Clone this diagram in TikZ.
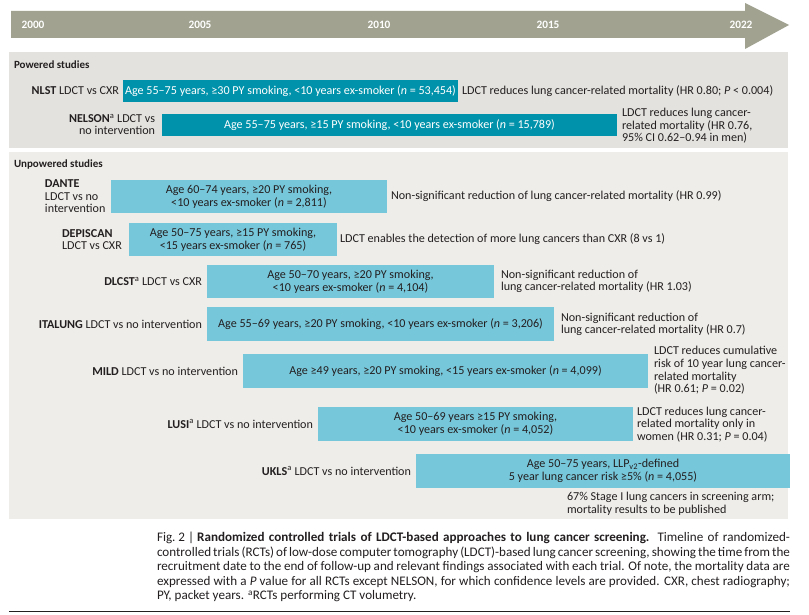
\documentclass[tikz,border=0pt]{standalone}
\usepackage{fontspec}
\setmainfont{Carlito}
\definecolor{arrowgray}{HTML}{A1A28F}
\definecolor{tealdark}{HTML}{0092AA}
\definecolor{teallight}{HTML}{77C7DA}
\definecolor{panelA}{HTML}{E3E2DE}
\definecolor{panelB}{HTML}{EEEDE9}
\definecolor{ink}{HTML}{231F20}
\tikzset{
  txt/.style={inner sep=0pt, outer sep=0pt, text=ink, font=\fontsize{12.1}{12.6}\selectfont},
  head/.style={txt, font=\fontsize{11}{12.6}\selectfont\bfseries},
  year/.style={inner sep=0pt, text=white, font=\fontsize{11.3}{12}\selectfont\bfseries},
  barbase/.style={inner sep=0pt, outer sep=0pt, anchor=north west, align=center, font=\fontsize{12.1}{12.6}\selectfont},
  darkbar/.style={barbase, fill=tealdark, text=white},
  lightbar/.style={barbase, fill=teallight, text=ink},
}
\newcommand{\sa}{\textsuperscript{a}}
\begin{document}
\begin{tikzpicture}[x=1pt,y=-1pt]
\useasboundingbox (0,0) rectangle (809,615);
\fill[white] (0,0) rectangle (809,615);
% timeline arrow
\fill[arrowgray] (11,11) -- (745,11) -- (745,3) -- (789,25) -- (745,49) -- (745,38) -- (11,38) -- cycle;
\node[year] (y2000) at (33,24.5) {2000};
\node[year] (y2005) at (200,24.5) {2005};
\node[year] (y2010) at (379,24.5) {2010};
\node[year] (y2015) at (548,24.5) {2015};
\node[year] (y2022) at (741,24.5) {2022};
% panels
\fill[panelA] (9,52) rectangle (788,148);
\fill[panelB] (9,152) rectangle (788,519);
% powered
\node[head, anchor=west] (hp) at (14,65) {Powered studies};
\node[darkbar, minimum width=335pt, minimum height=22pt] (nlst) at (123,80)
  {Age 55–75 years, ≥30 PY smoking, <10 years ex-smoker (\textit{n} = 53,454)};
\node[txt, anchor=east] (nlstl) at (119,91) {\textbf{NLST} LDCT vs CXR};
\node[txt, anchor=west] (nlstr) at (462,91) {LDCT reduces lung cancer-related mortality (HR 0.80; \textit{P} < 0.004)};
\node[darkbar, minimum width=455pt, minimum height=22pt] (nelson) at (162,114)
  {Age 55–75 years, ≥15 PY smoking, <10 years ex-smoker (\textit{n} = 15,789)};
\node[txt, anchor=east, align=right] (nelsonl) at (155,124.5) {\textbf{NELSON}\sa{} LDCT vs\\no intervention};
\node[txt, anchor=west, align=left] (nelsonr) at (622,126) {LDCT reduces lung cancer-\\related mortality (HR 0.76,\\95\% CI 0.62–0.94 in men)};
% unpowered
\node[head, anchor=west] (hu) at (14,165) {Unpowered studies};
\node[lightbar, minimum width=276pt, minimum height=33pt] (dante) at (111,180)
  {Age 60–74 years, ≥20 PY smoking,\\<10 years ex-smoker (\textit{n} = 2,811)};
\node[txt, anchor=west, align=left] (dantel) at (45,196.5) {\textbf{DANTE}\\LDCT vs no\\intervention};
\node[txt, anchor=west] (danter) at (391,196.5) {Non-significant reduction of lung cancer-related mortality (HR 0.99)};
\node[lightbar, minimum width=208pt, minimum height=33pt] (depiscan) at (129,223)
  {Age 50–75 years, ≥15 PY smoking,\\<15 years ex-smoker (\textit{n} = 765)};
\node[txt, anchor=west, align=left] (depiscanl) at (62,239.5) {\textbf{DEPISCAN}\\LDCT vs CXR};
\node[txt, anchor=west] (depiscanr) at (340,239.5) {LDCT enables the detection of more lung cancers than CXR (8 vs 1)};
\node[lightbar, minimum width=287pt, minimum height=33pt] (dlcst) at (207,265)
  {Age 50–70 years, ≥20 PY smoking,\\<10 years ex-smoker (\textit{n} = 4,104)};
\node[txt, anchor=east] (dlcstl) at (202,281.5) {\textbf{DLCST}\sa{} LDCT vs CXR};
\node[txt, anchor=west, align=left] (dlcstr) at (501,281.5) {Non-significant reduction of\\lung cancer-related mortality (HR 1.03)};
\node[lightbar, minimum width=347pt, minimum height=34pt] (italung) at (207,307)
  {Age 55–69 years, ≥20 PY smoking, <10 years ex-smoker (\textit{n} = 3,206)};
\node[txt, anchor=east] (italungl) at (202,324) {\textbf{ITALUNG} LDCT vs no intervention};
\node[txt, anchor=west, align=left] (italungr) at (561,324.5) {Non-significant reduction of\\lung cancer-related mortality (HR 0.7)};
\node[lightbar, minimum width=405pt, minimum height=34pt] (mild) at (243,354)
  {Age ≥49 years, ≥20 PY smoking, <15 years ex-smoker (\textit{n} = 4,099)};
\node[txt, anchor=east] (mildl) at (238,371) {\textbf{MILD} LDCT vs no intervention};
\node[txt, anchor=west, align=left] (mildr) at (654,370.5) {LDCT reduces cumulative\\risk of 10 year lung cancer-\\related mortality\\(HR 0.61; \textit{P} = 0.02)};
\node[lightbar, minimum width=315pt, minimum height=34pt] (lusi) at (318,407)
  {Age 50–69 years ≥15 PY smoking,\\<10 years ex-smoker (\textit{n} = 4,052)};
\node[txt, anchor=east] (lusil) at (313,424) {\textbf{LUSI}\sa{} LDCT vs no intervention};
\node[txt, anchor=west, align=left] (lusir) at (637,424.5) {LDCT reduces lung cancer-\\related mortality only in\\women (HR 0.31; \textit{P} = 0.04)};
\node[lightbar, minimum width=374pt, minimum height=34pt] (ukls) at (416,454)
  {Age 50–75 years, LLP\textsubscript{v2}-defined\\5 year lung cancer risk ≥5\% (\textit{n} = 4,055)};
\node[txt, anchor=east] (uklsl) at (411,471) {\textbf{UKLS}\sa{} LDCT vs no intervention};
\node[txt, anchor=north west, align=left] (uklsr) at (567,492) {67\% Stage I lung cancers in screening arm;\\mortality results to be published};
% caption
\node[txt, anchor=north west, text width=633pt, align=justify, font=\fontsize{13.1}{14.6}\selectfont] (cap) at (157,532)
  {Fig.\hspace{3pt}2\hspace{3pt}|\hspace{3pt}\textbf{Randomized controlled trials of LDCT-based approaches to lung cancer screening.} Timeline of randomized-\linebreak
   controlled trials (RCTs) of low-dose computer tomography (LDCT)-based lung cancer screening, showing the time from the\linebreak
   recruitment date to the end of follow-up and relevant findings associated with each trial. Of note, the mortality data are\linebreak
   expressed with a \textit{P} value for all RCTs except NELSON, for which confidence levels are provided. CXR, chest radiography;\linebreak
   PY, packet years. \textsuperscript{a}RCTs performing CT volumetry.};
\coordinate (rl) at (9,611.5);
\coordinate (rr) at (790,611.5);
\draw[line width=1.2pt, ink] (rl) -- (rr);
\end{tikzpicture}
\end{document}
